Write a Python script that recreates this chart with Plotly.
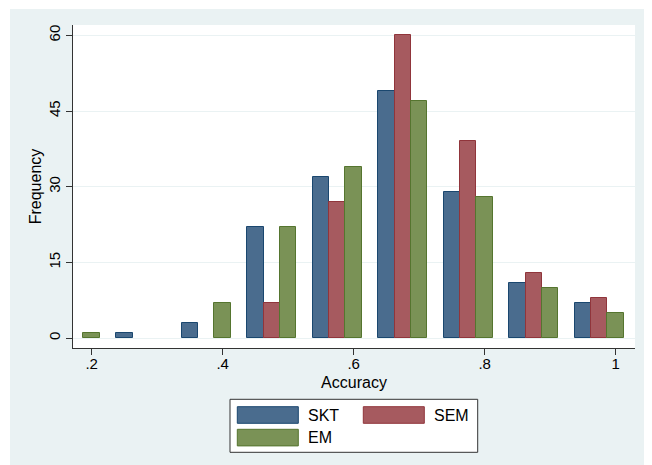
import plotly.graph_objects as go

# ---- data ----
series_names = ["SKT", "SEM", "EM"]
skt_x = [0.25, 0.35, 0.45, 0.55, 0.65, 0.75, 0.85, 0.95]
skt_y = [1, 3, 22, 32, 49, 29, 11, 7]
sem_x = [0.475, 0.575, 0.675, 0.775, 0.875, 0.975]
sem_y = [7, 27, 60, 39, 13, 8]
em_x = [0.2, 0.4, 0.5, 0.6, 0.7, 0.8, 0.9, 1.0]
em_y = [1, 7, 22, 34, 47, 28, 10, 5]
x_tickvals = [0.2, 0.4, 0.6, 0.8, 1.0]
x_ticktext = [".2", ".4", ".6", ".8", "1"]
y_tickvals = [0, 15, 30, 45, 60]
y_ticktext = ["0", "15", "30", "45", "60"]

fills = ["#4a6c8e", "#a65a5f", "#7a9256"]
lines = ["#1a476f", "#90353b", "#55752f"]
bg = "#eaf2f3"
FONT = "Liberation Sans, Arial, sans-serif"

OFF = 8  # page body margin in the browser
W, H = 652, 465
L, T = 73 - OFF, 25 - OFF
R = W - (635 - OFF)
B = H - (348 - OFF)
pw, ph = W - L - R, H - T - B


def px(x):  # screen px -> paper
    return (x - OFF - L) / pw


def py(y):
    return (H - B - (y - OFF)) / ph


fig = go.Figure()
for name, xs, ys, fc, lc in zip(series_names, [skt_x, sem_x, em_x],
                                [skt_y, sem_y, em_y], fills, lines):
    fig.add_trace(go.Bar(x=xs, y=ys, name=name, width=0.025,
                         marker=dict(color=fc, line=dict(color=lc, width=1)),
                         showlegend=False))

shapes = [
    dict(type="rect", xref="paper", yref="paper", x0=px(10), x1=px(700),
         y0=py(500), y1=py(9), fillcolor=bg, line=dict(width=0), layer="below"),
    dict(type="rect", xref="paper", yref="paper", x0=0, x1=1, y0=0, y1=1,
         fillcolor="white", line=dict(width=0), layer="below"),
    # legend box
    dict(type="rect", xref="paper", yref="paper", x0=px(230), x1=px(477.7),
         y0=py(452.3), y1=py(399.3), fillcolor="white",
         line=dict(color="#333333", width=1)),
]
annotations = []
entry_pos = [(237.3, 406.7), (363.3, 406.7), (237.3, 429.3)]
for name, (sx, sy), fc, lc in zip(series_names, entry_pos, fills, lines):
    shapes.append(dict(type="rect", xref="paper", yref="paper",
                       x0=px(sx), x1=px(sx + 61), y0=py(sy + 16.6), y1=py(sy),
                       fillcolor=fc, line=dict(color=lc, width=1)))
    annotations.append(dict(xref="paper", yref="paper", x=px(sx + 69),
                            y=py(sy + 8.3), text=name, showarrow=False,
                            xanchor="left", yanchor="middle",
                            font=dict(family=FONT, size=16, color="black")))

fig.update_layout(
    width=W, height=H,
    margin=dict(l=L, r=R, t=T, b=B, autoexpand=False),
    paper_bgcolor="white", plot_bgcolor="white",
    barmode="overlay", bargap=0,
    font=dict(family=FONT, size=15, color="black"),
    shapes=shapes, annotations=annotations,
    showlegend=False,
    xaxis=dict(range=[0.1715, 1.0295], tickvals=x_tickvals, ticktext=x_ticktext,
               ticks="outside", ticklen=6, tickcolor="#333333",
               showline=True, linecolor="#333333", linewidth=1,
               showgrid=False, zeroline=False, mirror=False,
               tickfont=dict(size=15), ticklabelstandoff=-4,
               title=dict(text="Accuracy", font=dict(size=16), standoff=5)),
    yaxis=dict(range=[-1.96, 62.04], tickvals=y_tickvals, ticktext=y_ticktext,
               tickangle=-90, ticks="outside", ticklen=6, tickcolor="#333333",
               showline=True, linecolor="#333333", linewidth=1,
               showgrid=True, gridcolor=bg, gridwidth=1,
               zeroline=False, tickfont=dict(size=15),
               title=dict(text="Frequency", font=dict(size=16), standoff=0)),
)

fig.write_html("out.html")
